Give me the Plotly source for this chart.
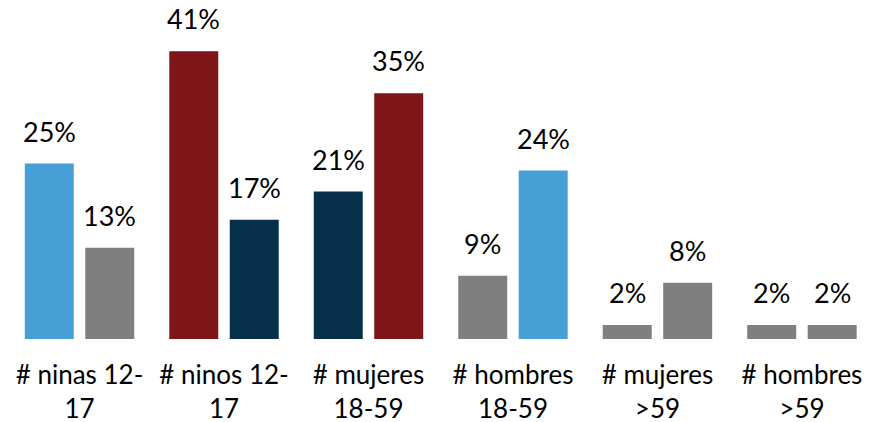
import plotly.graph_objects as go

categories = ["# ninas 12-<br>17", "# ninos 12-<br>17", "# mujeres<br>18-59",
              "# hombres<br>18-59", "# mujeres<br>&gt;59", "# hombres<br>&gt;59"]
series_a = [25, 41, 21, 9, 2, 2]
series_b = [13, 17, 35, 24, 8, 2]

BLUE, GRAY, RED, NAVY = "#479FD5", "#7F7F7F", "#7E1519", "#07304B"
colors_a = [BLUE, RED, NAVY, GRAY, GRAY, GRAY]
colors_b = [GRAY, NAVY, RED, BLUE, GRAY, GRAY]

FONT = "Lato"
x = list(range(len(categories)))
bargap = 0.163
slot = (1 - bargap) / 2

fig = go.Figure()
fig.add_bar(x=x, y=series_a, marker=dict(color=colors_a, line=dict(width=0)))
fig.add_bar(x=x, y=series_b, marker=dict(color=colors_b, line=dict(width=0)))

for vals, sign in ((series_a, -1), (series_b, 1)):
    for i, v in enumerate(vals):
        fig.add_annotation(x=i + sign * slot / 2, y=v, text=f"{v}%", showarrow=False,
                           yanchor="bottom", yshift=14,
                           font=dict(family=FONT, size=27, color="#000000"))

fig.update_layout(
    width=862, height=414,
    margin=dict(l=0, r=0, t=0, b=83, autoexpand=False),
    barmode="group", bargap=bargap, bargroupgap=0.19,
    plot_bgcolor="white", paper_bgcolor="white",
    showlegend=False,
    xaxis=dict(range=[-0.495, 5.471], tickmode="array", tickvals=x, ticktext=categories,
               automargin=False, ticklabelstandoff=18,
               showgrid=False, zeroline=False, showline=False, ticks="",
               tickfont=dict(family=FONT, size=26, color="#000000")),
    yaxis=dict(range=[0, 47.15], visible=False, automargin=False),
)
fig.write_html("out.html")
